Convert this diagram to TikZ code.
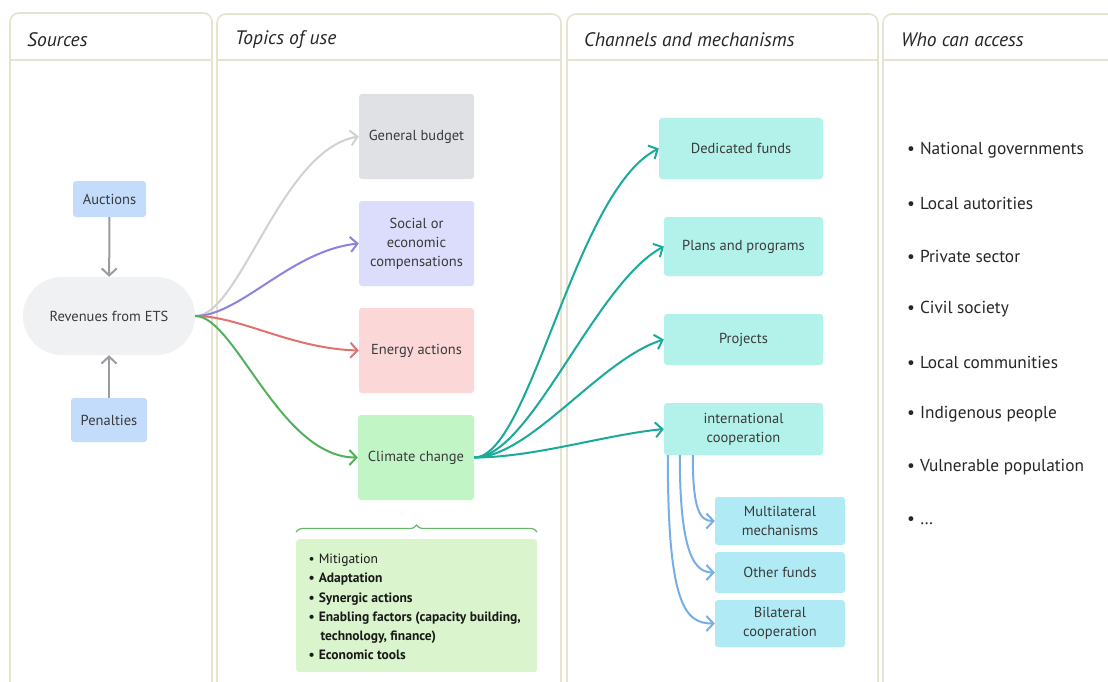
\documentclass[tikz,border=0pt]{standalone}
\usepackage{fontspec}
\setmainfont{PT Sans}
\usetikzlibrary{arrows.meta,decorations.pathreplacing}
\definecolor{colborder}{HTML}{E6E4CF}
\definecolor{txt}{HTML}{3A3A3A}
\definecolor{srcblue}{HTML}{C3DCFB}
\definecolor{revgray}{HTML}{F0F1F3}
\definecolor{gbfill}{HTML}{DFE1E5}
\definecolor{socfill}{HTML}{DCDCFC}
\definecolor{enfill}{HTML}{FCD7D8}
\definecolor{ccfill}{HTML}{C2F5C6}
\definecolor{listfill}{HTML}{DAF5CD}
\definecolor{tealfill}{HTML}{B3F2EA}
\definecolor{cyanfill}{HTML}{B0EBF5}
\definecolor{arrgray}{HTML}{9A9CA0}
\definecolor{arrlgray}{HTML}{CFD1D4}
\definecolor{arrpurple}{HTML}{8B83DC}
\definecolor{arrred}{HTML}{E07272}
\definecolor{arrgreen}{HTML}{55B05E}
\definecolor{arrteal}{HTML}{1AAA9A}
\definecolor{arrblue}{HTML}{77AEE6}
\definecolor{bracegreen}{HTML}{6DB56D}
\begin{document}
\begin{tikzpicture}[x=1pt,y=-1pt,
  column/.style={draw=colborder,line width=1.6pt,rounded corners=9pt},
  hdrline/.style={draw=colborder,line width=1.2pt},
  hdr/.style={anchor=west,text=black!85,font=\fontsize{19.5}{22}\selectfont\itshape,inner sep=0pt},
  box/.style={rounded corners=3pt,inner sep=2pt,align=center,text=txt,font=\fontsize{14.5}{19}\selectfont},
  arr/.style={line width=2pt,-{Straight Barb[length=7pt,width=15pt,line width=2pt]}},
  who/.style={anchor=west,text=black!85,font=\fontsize{17.3}{20}\selectfont,inner sep=0pt}
]
\clip (0,0) rectangle (1108,682);
\fill[white] (0,0) rectangle (1108,682);
% columns
\draw[column] (10,720) |- (212,13) -- (212,720);
\draw[column] (217,720) |- (561,14) -- (561,720);
\draw[column] (567,720) |- (878,14) -- (878,720);
\draw[column] (883,720) |- (1130,14) -- (1130,720);
\draw[hdrline] (10,60) -- (212,60);
\draw[hdrline] (217,60) -- (561,60);
\draw[hdrline] (567,60) -- (878,60);
\draw[hdrline] (883,60) -- (1108,60);
\node[hdr] (h1) at (27,40) {Sources};
\node[hdr] (h2) at (235,40) {Topics of use};
\node[hdr] (h3) at (584,40) {Channels and mechanisms};
\node[hdr] (h4) at (901,40) {Who can access};
% sources
\node[box,fill=srcblue,minimum width=73pt,minimum height=36pt] (auc) at (109.5,199) {Auctions};
\node[box,fill=srcblue,minimum width=76pt,minimum height=44pt] (pen) at (109,420) {Penalties};
\node[box,fill=revgray,minimum width=172pt,minimum height=78pt,rounded corners=39pt] (rev) at (109,316) {Revenues from ETS};
% topics
\node[box,fill=gbfill,minimum width=115pt,minimum height=85pt] (gb) at (416.5,136.5) {General budget};
\node[box,fill=socfill,minimum width=115pt,minimum height=85pt] (soc) at (416.5,243.5) {Social or\\economic\\compensations};
\node[box,fill=enfill,minimum width=115pt,minimum height=85pt] (en) at (416.5,350.5) {Energy actions};
\node[box,fill=ccfill,minimum width=116pt,minimum height=85pt] (cc) at (416,457.5) {Climate change};
\node[box,fill=listfill,minimum width=241pt,minimum height=133pt,anchor=north west,inner sep=0pt] (lst) at (296,539) {};
\node[anchor=north west,inner sep=0pt,text=black!90,font=\fontsize{13.5}{19.2}\selectfont,align=left] (lsttext) at (308.5,554) {%
\textbullet\hspace{4pt}Mitigation\\
\textbf{\textbullet\hspace{4pt}Adaptation}\\
\textbf{\textbullet\hspace{4pt}Synergic actions}\\
\textbf{\textbullet\hspace{4pt}Enabling factors (capacity building,}\\
\hspace*{11.8pt}\textbf{technology, finance)}\\
\textbf{\textbullet\hspace{4pt}Economic tools}};
\coordinate (bl) at (296,532);
\coordinate (br) at (537,532);
\draw[bracegreen,line width=1.2pt,decorate,decoration={brace,amplitude=7pt}] (bl) -- (br);
% channels
\node[box,fill=tealfill,minimum width=164pt,minimum height=61pt] (ded) at (741,148.5) {Dedicated funds};
\node[box,fill=tealfill,minimum width=159pt,minimum height=59pt] (pla) at (743.5,246.5) {Plans and programs};
\node[box,fill=tealfill,minimum width=159pt,minimum height=51pt] (pro) at (743.5,339.5) {Projects};
\node[box,fill=tealfill,minimum width=159pt,minimum height=52pt] (int) at (743.5,429) {international\\cooperation};
\node[box,fill=cyanfill,minimum width=130pt,minimum height=48pt] (mul) at (780,521) {Multilateral\\mechanisms};
\node[box,fill=cyanfill,minimum width=130pt,minimum height=41pt] (oth) at (780,572.5) {Other funds};
\node[box,fill=cyanfill,minimum width=130pt,minimum height=47pt] (bil) at (780,623.5) {Bilateral\\cooperation};
% who can access
\node[who] (w1) at (907,150) {\textbullet\hspace{5pt}National governments};
\node[who] (w2) at (907,203) {\textbullet\hspace{5pt}Local autorities};
\node[who] (w3) at (907,256) {\textbullet\hspace{5pt}Private sector};
\node[who] (w4) at (907,309) {\textbullet\hspace{5pt}Civil society};
\node[who] (w5) at (907,362) {\textbullet\hspace{5pt}Local communities};
\node[who] (w6) at (907,414) {\textbullet\hspace{5pt}Indigenous people};
\node[who] (w7) at (907,467) {\textbullet\hspace{5pt}Vulnerable population};
\node[who] (w8) at (907,521) {\textbullet\hspace{5pt}…};
% arrows sources
\draw[arr,arrgray] (auc) -- (rev);
\draw[arr,arrgray] (pen) -- (rev);
% arrows topics
\draw[arr,arrlgray] (rev.east) .. controls +(45,0) and +(-78,13) .. (gb.west);
\draw[arr,arrpurple] (rev.east) .. controls +(45,0) and +(-68,7) .. (soc.west);
\draw[arr,arrred] (rev.east) .. controls +(45,0) and +(-68,-2) .. (en.west);
\draw[arr,arrgreen] (rev.east) .. controls +(40,0) and +(-78,0) .. (cc.west);
% arrows channels
\draw[arr,arrteal] (cc.east) .. controls +(56,0) and +(-84,42) .. (ded.west);
\draw[arr,arrteal] (cc.east) .. controls +(56,0) and +(-69,37) .. (pla.west);
\draw[arr,arrteal] (cc.east) .. controls +(56,0) and +(-64,20) .. (pro.west);
\draw[arr,arrteal] (cc.east) .. controls +(60,0) and +(-60,6) .. (int.west);
% international sub
\draw[arr,arrblue] ([xshift=4pt]int.south west) .. controls +(0,150) and +(-30,0) .. (bil.west);
\draw[arr,arrblue] ([xshift=16pt]int.south west) .. controls +(0,100) and +(-20,0) .. (oth.west);
\draw[arr,arrblue] ([xshift=29pt]int.south west) .. controls +(0,55) and +(-15,0) .. (mul.west);
\end{tikzpicture}
\end{document}
